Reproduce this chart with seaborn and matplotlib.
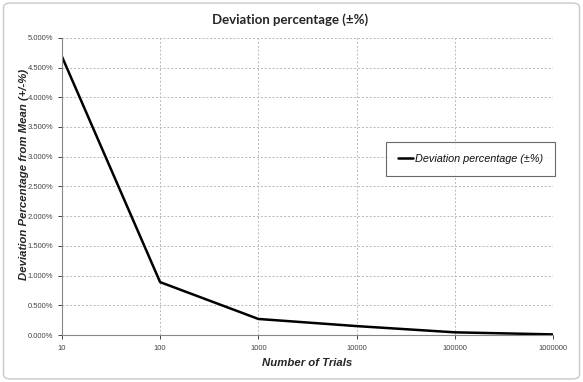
import matplotlib
matplotlib.use("Agg")
import matplotlib.pyplot as plt
import seaborn as sns
import pandas as pd
from matplotlib.patches import FancyBboxPatch
from matplotlib.ticker import FuncFormatter, FixedLocator

trials = [10, 100, 1000, 10000, 100000, 1000000]
deviation_pct = [4.69, 0.89, 0.27, 0.15, 0.045, 0.01]
series_name = "Deviation percentage (±%)"
y_ticks = [0.0, 0.5, 1.0, 1.5, 2.0, 2.5, 3.0, 3.5, 4.0, 4.5, 5.0]

sns.set_theme(style="white")
plt.rcParams['font.family'] = ['Liberation Sans', 'DejaVu Sans']

df = pd.DataFrame({"trials": trials, "dev": deviation_pct, "series": series_name})

fig = plt.figure(figsize=(5.83, 3.82), dpi=100)
ax = fig.add_axes([0.106, 0.123, 0.843, 0.778])

sns.lineplot(data=df, x="trials", y="dev", hue="series", palette=["black"],
             linewidth=1.8, ax=ax)
ax.set_xscale("log")
ax.set_xlim(10, 1000000)
ax.set_ylim(0, 5.0)
ax.xaxis.set_major_locator(FixedLocator(trials))
ax.xaxis.set_minor_locator(FixedLocator([]))
ax.xaxis.set_major_formatter(FuncFormatter(lambda v, p: f"{int(round(v))}"))
ax.yaxis.set_major_locator(FixedLocator(y_ticks))
ax.yaxis.set_major_formatter(FuncFormatter(lambda v, p: f"{v:.3f}%"))

ax.grid(True, which="major", color="#b8b8b8", linestyle=(0, (2, 2)), linewidth=0.7)
for s in ["top", "right"]:
    ax.spines[s].set_visible(False)
for s in ["left", "bottom"]:
    ax.spines[s].set_color("#888888")
    ax.spines[s].set_linewidth(0.8)
ax.tick_params(axis="both", labelsize=5.5, colors="#444444", length=3, direction="out",
               left=True, bottom=True, width=0.7)
ax.tick_params(axis="x", pad=4)
ax.tick_params(axis="y", pad=3)

ax.set_xlabel("Number of Trials", fontsize=8.2, fontweight="bold", fontstyle="italic")
ax.xaxis.set_label_coords(0.5, -0.095)
ax.set_ylabel("Deviation Percentage from Mean (+/-%)", fontsize=8.2, fontweight="bold",
              fontstyle="italic")
ax.yaxis.set_label_coords(-0.077, 0.539)
ax.yaxis.label.set_va("center")
ax.xaxis.label.set_va("center")
fig.text(0.497, 0.948, "Deviation percentage (±%)", ha="center", va="center",
         fontsize=9.5, fontweight="bold", family=["Lato", "DejaVu Sans"])

leg = ax.legend(loc="upper left", bbox_to_anchor=(386/583, 1 - 142/382),
                bbox_transform=fig.transFigure, frameon=True, fancybox=False,
                prop={"size": 7.8, "style": "italic"}, handlelength=1.4,
                handletextpad=0.15, borderpad=1.1, borderaxespad=0)
leg.get_frame().set_edgecolor("#444444")
leg.get_frame().set_linewidth(0.8)
for t in leg.get_texts():
    t.set_color("#111111")

border = FancyBboxPatch((0.006, 0.008), 0.988, 0.984, boxstyle="round,pad=0,rounding_size=0.012",
                        transform=fig.transFigure, fill=False, edgecolor="#c8c8c8", linewidth=1.0)
fig.patches.append(border)

fig.savefig("out.png", dpi=100)
